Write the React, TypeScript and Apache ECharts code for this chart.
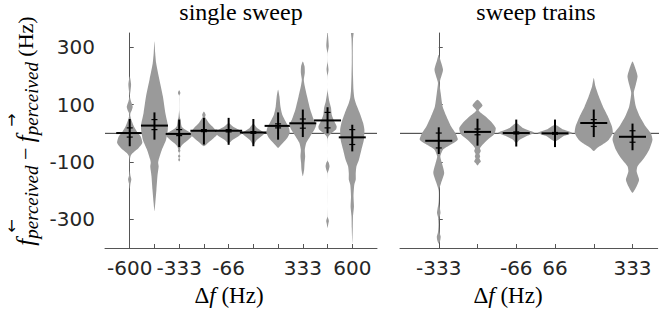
import React, { useEffect, useRef } from 'react';
import * as echarts from 'echarts';

// ---------- data ----------
const singleCategories = ['-600', '-467', '-333', '-200', '-66', '66', '200', '333', '467', '600'];
const singleTickLabels = ['-600', '', '-333', '', '-66', '', '', '333', '', '600'];
const trainCategories = ['-333', '-200', '-66', '66', '200', '333'];
const trainTickLabels = ['-333', '', '-66', '66', '', '333'];
const yTickValues = [-300, -100, 100, 300];

// violin profiles: [value (Hz), half-width as fraction of category spacing]
const singleProfiles: number[][][] = [
  [[199, 0], [187, 0.03], [170, 0.055], [147, 0.03], [129, 0.006], [112, 0.05], [100, 0.1], [92, 0.12], [80, 0.08], [71, 0.03], [62, 0.02], [48, 0.06], [24, 0.17], [1, 0.33], [-10, 0.44], [-33, 0.51], [-51, 0.36], [-69, 0.12], [-78, 0.04], [-90, 0.01], [-130, 0.005], [-148, 0.03], [-160, 0.065], [-175, 0.03], [-194, 0]],
  [[321, 0], [280, 0.03], [245, 0.068], [187, 0.2], [129, 0.34], [71, 0.44], [30, 0.54], [13, 0.54], [-22, 0.47], [-57, 0.3], [-92, 0.17], [-103, 0.15], [-115, 0.17], [-130, 0.15], [-150, 0.12], [-197, 0.08], [-243, 0.034], [-272, 0]],
  [[150, 0], [141, 0.05], [132, 0.005], [120, 0.004], [80, 0.004], [55, 0.03], [48, 0.054], [24, 0.1], [13, 0.24], [1, 0.47], [-10, 0.51], [-22, 0.37], [-34, 0.2], [-45, 0.08], [-55, 0.034], [-62, 0.05], [-68, 0.01], [-74, 0.01], [-80, 0.05], [-86, 0.01], [-92, 0.04], [-98, 0]],
  [[76, 0], [65, 0.07], [58, 0.05], [54, 0.06], [36, 0.2], [19, 0.4], [7, 0.51], [-5, 0.53], [-16, 0.4], [-28, 0.24], [-39, 0.1], [-45, 0]],
  [[36, 0], [24, 0.17], [13, 0.4], [1, 0.55], [-10, 0.4], [-22, 0.17], [-34, 0]],
  [[33, 0], [19, 0.15], [7, 0.36], [-3, 0.42], [-12, 0.3], [-24, 0.13], [-40, 0]],
  [[152, 0], [129, 0.054], [94, 0.095], [65, 0.17], [42, 0.3], [19, 0.44], [1, 0.47], [-16, 0.37], [-33, 0.2], [-45, 0.07], [-51, 0]],
  [[251, 0], [234, 0.07], [211, 0.08], [187, 0.04], [164, 0.08], [129, 0.17], [83, 0.3], [48, 0.44], [30, 0.54], [13, 0.47], [-10, 0.3], [-33, 0.14], [-57, 0.08], [-80, 0.095], [-103, 0.07], [-127, 0.054], [-150, 0]],
  [[360, 0], [340, 0.02], [304, 0.05], [280, 0.005], [250, 0.004], [222, 0.04], [200, 0.004], [150, 0.004], [112, 0.07], [89, 0.14], [65, 0.17], [42, 0.27], [24, 0.37], [13, 0.34], [1, 0.17], [-10, 0.04], [-20, 0.005], [-95, 0.004], [-103, 0.05], [-115, 0.08], [-127, 0.05], [-140, 0.004], [-290, 0.004], [-300, 0.04], [-307, 0.054], [-316, 0.03], [-330, 0]],
  [[380, 0.03], [350, 0.054], [330, 0.03], [290, 0.02], [250, 0.02], [200, 0.03], [150, 0.05], [125, 0.08], [106, 0.14], [71, 0.3], [36, 0.44], [13, 0.49], [-22, 0.47], [-57, 0.37], [-92, 0.27], [-115, 0.17], [-140, 0.14], [-162, 0.14], [-180, 0.08], [-220, 0.05], [-255, 0.068], [-290, 0.03], [-330, 0.02], [-383, 0]],
];
const singleMean = [1, 27, -2, 9, 9, 3, 26, 35, 45, -14];
const singleLow = [-45, -22, -48, -39, -40, -45, -22, -13, 0, -63];
const singleHigh = [50, 73, 48, 54, 54, 50, 73, 83, 91, 30];
const singleQuart = [[19, -13], [48, 13], [13, -8], [13, 6], [13, 5], [6, 0], [33, 19], [50, 18], [73, 19], [13, -39]];

const trainProfiles: number[][][] = [
  [[274, 0], [257, 0.04], [222, 0.11], [187, 0.04], [176, 0.02], [141, 0.05], [94, 0.1], [59, 0.2], [24, 0.32], [1, 0.43], [-22, 0.49], [-40, 0.3], [-57, 0.11], [-80, 0.04], [-103, 0.08], [-138, 0.14], [-173, 0.06], [-197, 0.006], [-243, 0.006], [-262, 0.03], [-278, 0.045], [-295, 0.015], [-320, 0.006], [-345, 0.02], [-360, 0.05], [-372, 0.04], [-385, 0]],
  [[117, 0], [97, 0.13], [80, 0.03], [59, 0.21], [42, 0.34], [19, 0.47], [-3, 0.43], [-22, 0.26], [-40, 0.13], [-52, 0.064], [-62, 0.086], [-72, 0.05], [-80, 0.07], [-88, 0.05], [-98, 0.086], [-105, 0.04], [-112, 0]],
  [[36, 0], [19, 0.17], [7, 0.39], [1, 0.47], [-10, 0.26], [-22, 0.086], [-34, 0]],
  [[30, 0], [13, 0.215], [1, 0.45], [-10, 0.215], [-28, 0]],
  [[193, 0], [164, 0.043], [129, 0.13], [94, 0.236], [59, 0.365], [24, 0.47], [1, 0.49], [-22, 0.39], [-40, 0.215], [-51, 0.086], [-62, 0]],
  [[251, 0], [222, 0.086], [199, 0.13], [170, 0.086], [141, 0.034], [94, 0.086], [59, 0.19], [24, 0.34], [1, 0.47], [-22, 0.515], [-57, 0.43], [-86, 0.3], [-115, 0.13], [-133, 0.107], [-162, 0.17], [-185, 0.107], [-208, 0]],
];
const trainMean = [-26, 5, 1, 0, 36, -12];
const trainLow = [-72, -43, -46, -48, -13, -59];
const trainHigh = [21, 51, 48, 48, 83, 34];
const trainQuart = [[1, -51], [15, -5], [5, -2], [3, -3], [48, 24], [9, -31]];

// ---------- rendering ----------
const VIOLIN = '#9a9a9a';
const AXIS = '#555555';
const TEXT = '#262626';

function makeRender(profiles: number[][][], mean: number[], low: number[], high: number[], quart: number[][]) {
  return (params: any, api: any) => {
    const i = api.value(0);
    const prof = profiles[i];
    const base = api.coord([i, 0]);
    const next = api.coord([i + 1, 0]);
    const sp = next[0] - base[0];
    const cx = base[0];
    const right = prof.map(([v, w]) => [cx + w * sp, api.coord([i, v])[1]]);
    const left = prof
      .slice()
      .reverse()
      .filter((p, k, arr) => !((k === 0 || k === arr.length - 1) && p[1] === 0))
      .map(([v, w]) => [cx - w * sp, api.coord([i, v])[1]]);
    const pts = right.concat(left);
    const yMean = api.coord([i, mean[i]])[1];
    const yLo = api.coord([i, low[i]])[1];
    const yHi = api.coord([i, high[i]])[1];
    const children: any[] = [
      { type: 'polygon', shape: { points: pts, smooth: 0.2 }, style: { fill: VIOLIN } },
      { type: 'line', shape: { x1: cx, y1: yLo, x2: cx, y2: yHi }, style: { stroke: '#000', lineWidth: 2 } },
      { type: 'line', shape: { x1: cx - 13.5, y1: yMean, x2: cx + 13.5, y2: yMean }, style: { stroke: '#000', lineWidth: 2 } },
    ];
    quart[i].forEach((q) => {
      const yq = api.coord([i, q])[1];
      children.push({ type: 'line', shape: { x1: cx - 3, y1: yq, x2: cx + 3, y2: yq }, style: { stroke: '#000', lineWidth: 1.2 } });
    });
    return { type: 'group', children };
  };
}

const yAxisBase = (gridIndex: number, showLabels: boolean) => ({
  gridIndex,
  type: 'value',
  min: -400,
  max: 350,
  interval: 50,
  axisLine: { show: true, lineStyle: { color: AXIS, width: 1 } },
  axisTick: { show: true, inside: true, length: 4, customValues: yTickValues, lineStyle: { color: AXIS } },
  axisLabel: { show: showLabels, customValues: yTickValues, fontSize: 20, fontFamily: 'DejaVu Sans', color: TEXT, margin: 10 },
  splitLine: { show: false },
});

const xAxisBase = (gridIndex: number, cats: string[], labels: string[], max: number) => {
  const idx = cats.map((_, i) => i);
  return {
    gridIndex,
    type: 'value',
    min: -1,
    max,
    axisLine: { show: true, onZero: false, lineStyle: { color: AXIS, width: 1 } },
    axisTick: { show: true, inside: true, length: 4, customValues: idx, lineStyle: { color: AXIS } },
    axisLabel: {
      customValues: idx.filter((i) => labels[i] !== ''),
      formatter: (v: number) => labels[Math.round(v)] ?? '',
      fontSize: 20,
      fontFamily: 'DejaVu Sans',
      color: TEXT,
      margin: 10,
    },
    splitLine: { show: false },
  };
};

const serifFont = '"Liberation Serif", serif';

const xNameRich = {
  d: { fontSize: 23, fontFamily: serifFont, fill: '#000' },
  f: { fontSize: 23, fontFamily: serifFont, fontStyle: 'italic', fill: '#000' },
  r: { fontSize: 23, fontFamily: serifFont, fill: '#000' },
};

const option: any = {
  animation: false,
  backgroundColor: '#ffffff',
  grid: [
    { left: 105, top: 33, width: 272, height: 215 },
    { left: 400, top: 33, width: 257.7, height: 215 },
  ],
  xAxis: [
    xAxisBase(0, singleCategories, singleTickLabels, 10),
    xAxisBase(1, trainCategories, trainTickLabels, 5.65),
  ],
  yAxis: [yAxisBase(0, true), yAxisBase(1, false)],
  series: [
    {
      type: 'line', xAxisIndex: 0, yAxisIndex: 0, data: [[-1, 0], [10, 0]], symbol: 'none', z: 1,
      lineStyle: { color: '#333', width: 1 }, silent: true,
    },
    {
      type: 'line', xAxisIndex: 1, yAxisIndex: 1, data: [[-1, 0], [6, 0]], symbol: 'none', z: 1, clip: false,
      lineStyle: { color: '#333', width: 1 }, silent: true,
    },
    {
      type: 'custom', xAxisIndex: 0, yAxisIndex: 0, clip: true, z: 2,
      data: singleCategories.map((_, i) => [i, singleMean[i]]),
      encode: { x: 0, y: 1 },
      renderItem: makeRender(singleProfiles, singleMean, singleLow, singleHigh, singleQuart),
    },
    {
      type: 'custom', xAxisIndex: 1, yAxisIndex: 1, clip: true, z: 2,
      data: trainCategories.map((_, i) => [i, trainMean[i]]),
      encode: { x: 0, y: 1 },
      renderItem: makeRender(trainProfiles, trainMean, trainLow, trainHigh, trainQuart),
    },
  ],
  graphic: [
    { type: 'text', x: 241, y: 12, style: { text: 'single sweep', fontSize: 24, fontFamily: serifFont, fill: '#000', align: 'center', verticalAlign: 'middle' } },
    { type: 'text', x: 536, y: 12, style: { text: 'sweep trains', fontSize: 24, fontFamily: serifFont, fill: '#000', align: 'center', verticalAlign: 'middle' } },
    { type: 'text', x: 229, y: 295, style: { text: '{d|Δ}{f|f}{r| (Hz)}', align: 'center', verticalAlign: 'middle', rich: xNameRich } },
    { type: 'text', x: 508, y: 295, style: { text: '{d|Δ}{f|f}{r| (Hz)}', align: 'center', verticalAlign: 'middle', rich: xNameRich } },
    {
      type: 'text', x: 25, y: 131, rotation: Math.PI / 2,
      style: {
        text: '{f|f}{s|perceived}{m| − }{f|f}{s|perceived}{r| (Hz)}', align: 'center', verticalAlign: 'middle',
        rich: {
          f: { fontSize: 25, lineHeight: 25, fontFamily: serifFont, fontStyle: 'italic', fill: '#000' },
          s: { fontSize: 19, lineHeight: 19, fontFamily: serifFont, fontStyle: 'italic', fill: '#000', padding: [12, 0, 0, 0] },
          m: { fontSize: 22, lineHeight: 22, fontFamily: serifFont, fill: '#000' },
          r: { fontSize: 22, lineHeight: 22, fontFamily: serifFont, fill: '#000' },
        },
      },
    },
    { type: 'text', x: 11, y: 226, rotation: Math.PI / 2, style: { text: '←', fontSize: 16, fontFamily: 'DejaVu Sans', fill: '#000', align: 'center', verticalAlign: 'middle' } },
    { type: 'text', x: 11, y: 120, rotation: Math.PI / 2, style: { text: '→', fontSize: 16, fontFamily: 'DejaVu Sans', fill: '#000', align: 'center', verticalAlign: 'middle' } },
  ],
};

export default function App() {
  const ref = useRef<HTMLDivElement>(null);
  useEffect(() => {
    const chart = echarts.init(ref.current as HTMLDivElement, null, { renderer: 'svg' });
    chart.setOption(option);
    return () => chart.dispose();
  }, []);
  return <div ref={ref} style={{ position: 'absolute', left: 0, top: 0, width: 662, height: 320 }} />;
}
